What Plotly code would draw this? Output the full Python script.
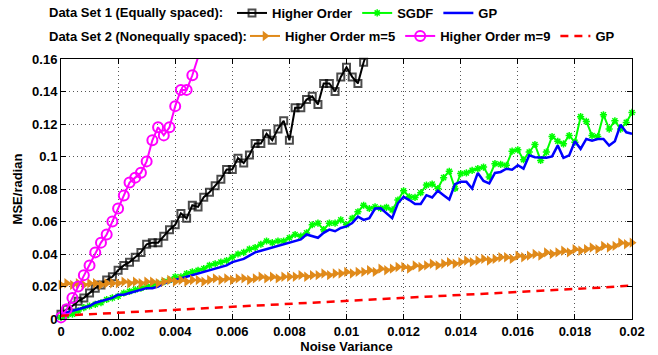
import plotly.graph_objects as go

# ---------------- data ----------------
step = 0.0002
noise_var = [round(i * step, 4) for i in range(101)]

x_ticks = [0, 0.002, 0.004, 0.006, 0.008, 0.01, 0.012, 0.014, 0.016, 0.018, 0.02]
x_tick_labels = ["0", "0.002", "0.004", "0.006", "0.008", "0.01", "0.012", "0.014", "0.016", "0.018", "0.02"]
y_ticks = [0, 0.02, 0.04, 0.06, 0.08, 0.1, 0.12, 0.14, 0.16]
y_tick_labels = ["0", "0.02", "0.04", "0.06", "0.08", "0.1", "0.12", "0.14", "0.16"]

# Data set 1 (equally spaced)
ho_set1 = [0.003, 0.006, 0.008, 0.011, 0.013, 0.016, 0.019, 0.021, 0.024, 0.026,
           0.030, 0.033, 0.035, 0.038, 0.041, 0.046, 0.047, 0.047, 0.051, 0.055,
           0.058, 0.065, 0.062, 0.070, 0.069, 0.075, 0.078, 0.082, 0.086, 0.092,
           0.092, 0.099, 0.096, 0.101, 0.108, 0.108, 0.114, 0.110, 0.117, 0.122,
           0.110, 0.130, 0.130, 0.135, 0.137, 0.132, 0.145, 0.145, 0.140, 0.149,
           0.155, 0.149, 0.145, 0.158, 0.168]

sgdf_set1 = [0.001, 0.002, 0.003, 0.005, 0.007, 0.008, 0.009, 0.010, 0.012, 0.013,
             0.014, 0.016, 0.017, 0.018, 0.019, 0.020, 0.021, 0.022, 0.023, 0.024,
             0.026, 0.026, 0.028, 0.029, 0.030, 0.031, 0.033, 0.034, 0.035, 0.036,
             0.038, 0.040, 0.041, 0.043, 0.044, 0.046, 0.048, 0.047, 0.048, 0.048,
             0.050, 0.052, 0.051, 0.053, 0.058, 0.059, 0.055, 0.059, 0.059, 0.061,
             0.058, 0.062, 0.066, 0.070, 0.068, 0.069,
             0.0681, 0.0687, 0.0671, 0.0732, 0.0789, 0.0752, 0.0748, 0.0777, 0.0824, 0.0830,
             0.0803, 0.0870, 0.0909, 0.0803, 0.0895, 0.0899, 0.0915, 0.0925, 0.0935, 0.0874,
             0.0956, 0.0952, 0.0946, 0.1033, 0.1041, 0.0980, 0.1027, 0.1074, 0.0976, 0.1027,
             0.1123, 0.1094, 0.1078, 0.1129, 0.1088, 0.1245, 0.1216, 0.1129, 0.1123, 0.1257,
             0.1169, 0.1220, 0.1169, 0.1210, 0.1271]

gp_set1 = [0.003, 0.004, 0.005, 0.006, 0.007, 0.008, 0.010, 0.011, 0.012, 0.013,
           0.015, 0.015, 0.016, 0.017, 0.018, 0.019, 0.019, 0.020, 0.022, 0.023,
           0.024, 0.025, 0.026, 0.027, 0.028, 0.029, 0.030, 0.031, 0.032, 0.033,
           0.035, 0.036, 0.037, 0.039, 0.041, 0.042, 0.043, 0.044, 0.045, 0.046,
           0.047, 0.048, 0.049, 0.052, 0.051, 0.050, 0.053, 0.055, 0.054, 0.056,
           0.057, 0.059, 0.063, 0.061, 0.062, 0.068,
           0.0681, 0.0650, 0.0620, 0.0712, 0.0752, 0.0732, 0.0708, 0.0708, 0.0762, 0.0748,
           0.0789, 0.0762, 0.0736, 0.0830, 0.0844, 0.0844, 0.0803, 0.0899, 0.0850, 0.0834,
           0.0899, 0.0905, 0.0925, 0.0919, 0.0946, 0.0925, 0.1007, 0.0996, 0.0996, 0.0992,
           0.1001, 0.1068, 0.0992, 0.1007, 0.1094, 0.1047, 0.1108, 0.1098, 0.1108, 0.1108,
           0.1068, 0.1094, 0.1196, 0.1149, 0.1139]

# Data set 2 (nonequally spaced)
ho_m5_set2 = [0.021, 0.022, 0.021, 0.022, 0.021, 0.022, 0.022, 0.021, 0.022, 0.022,
              0.022, 0.023, 0.022, 0.023, 0.022, 0.023, 0.023, 0.022, 0.023, 0.024,
              0.023, 0.024, 0.023, 0.024, 0.024, 0.023, 0.024, 0.025, 0.024, 0.025,
              0.024, 0.025, 0.025, 0.024, 0.025, 0.026, 0.025, 0.026, 0.025, 0.026,
              0.026, 0.026, 0.027, 0.026, 0.027, 0.027, 0.028, 0.027, 0.028, 0.028,
              0.029, 0.028, 0.029, 0.029, 0.030, 0.029, 0.031, 0.030, 0.031, 0.032,
              0.032, 0.031, 0.033, 0.032, 0.033, 0.034, 0.033, 0.034, 0.035, 0.034,
              0.035, 0.036, 0.035, 0.036, 0.037, 0.036, 0.037, 0.038, 0.038, 0.037,
              0.039, 0.038, 0.039, 0.040, 0.039, 0.041, 0.040, 0.041, 0.042, 0.041,
              0.043, 0.042, 0.043, 0.044, 0.043, 0.045, 0.044, 0.045, 0.047, 0.046,
              0.047]

ho_m9_set2 = [0.001, 0.006, 0.013, 0.020, 0.027, 0.033, 0.041, 0.047, 0.052, 0.060,
              0.068, 0.076, 0.084, 0.087, 0.090, 0.097, 0.110, 0.118, 0.113, 0.118,
              0.131, 0.141, 0.141, 0.150, 0.161]

gp_x_set2 = [0, 0.001, 0.002, 0.003, 0.004, 0.005, 0.006, 0.007, 0.008, 0.009, 0.01,
             0.011, 0.012, 0.013, 0.014, 0.015, 0.016, 0.017, 0.018, 0.019, 0.02]
gp_set2 = [0.0020, 0.0029, 0.0038, 0.0047, 0.0056, 0.0065, 0.0074, 0.0083, 0.0092, 0.0101,
           0.0110, 0.0120, 0.0129, 0.0138, 0.0147, 0.0156, 0.0166, 0.0175, 0.0184, 0.0194,
           0.0206]

# ---------------- figure ----------------
FONT = "Liberation Sans, Arial, Helvetica, sans-serif"
fig = go.Figure()

ho_sizes = [7] * (len(ho_set1) - 1) + [0]
fig.add_trace(go.Scatter(
    x=noise_var[:len(ho_set1)], y=ho_set1, mode="lines+markers", name="Higher Order",
    line=dict(color="black", width=2),
    marker=dict(symbol="square-open", size=ho_sizes, color="black", line=dict(width=2, color="black")),
    cliponaxis=False, legend="legend"))
fig.add_trace(go.Scatter(
    x=noise_var, y=sgdf_set1, mode="lines+markers", name="SGDF",
    line=dict(color="#00FF00", width=2),
    marker=dict(symbol="asterisk-open", size=6, color="#00FF00", line=dict(width=1.5, color="#00FF00")),
    cliponaxis=False, legend="legend"))
fig.add_trace(go.Scatter(
    x=noise_var, y=gp_set1, mode="lines", name="GP",
    line=dict(color="#0000FF", width=2.5),
    cliponaxis=False, legend="legend"))
fig.add_trace(go.Scatter(
    x=noise_var, y=ho_m5_set2, mode="lines+markers", name="Higher Order m=5",
    line=dict(color="#E08A1A", width=2),
    marker=dict(symbol="triangle-right", size=9, color="#E08A1A"),
    cliponaxis=False, legend="legend2"))
fig.add_trace(go.Scatter(
    x=noise_var[:len(ho_m9_set2)], y=ho_m9_set2, mode="lines+markers", name="Higher Order m=9",
    line=dict(color="#FF00FF", width=2),
    marker=dict(symbol="circle-open", size=10, color="#FF00FF", line=dict(width=2, color="#FF00FF")),
    cliponaxis=False, legend="legend2"))
fig.add_trace(go.Scatter(
    x=gp_x_set2, y=gp_set2, mode="lines", name="GP",
    line=dict(color="#FF0000", width=2.5, dash="8px,6px"),
    cliponaxis=False, legend="legend2"))

L, R, T, B = 61, 26, 59, 36
W, H = 658, 355
ph = H - T - B
pw = W - L - R

axis_common = dict(
    showline=True, linecolor="black", linewidth=1, mirror="ticks",
    ticks="inside", ticklen=5, tickcolor="black", tickwidth=1,
    showgrid=True, gridcolor="#555555", gridwidth=1, griddash="1px,3px",
    zeroline=False, automargin=False,
    tickfont=dict(family=FONT, size=13, color="black", weight="bold"),
)

fig.update_layout(
    width=W, height=H,
    margin=dict(l=L, r=R, t=T, b=B, pad=0, autoexpand=False),
    paper_bgcolor="white", plot_bgcolor="white",
    font=dict(family=FONT, size=13, color="black", weight="bold"),
    xaxis=dict(range=[0, 0.02], tickvals=x_ticks, ticktext=x_tick_labels,
               title=dict(text="Noise Variance", standoff=2,
                          font=dict(family=FONT, size=13, color="black", weight="bold")),
               **axis_common),
    yaxis=dict(range=[0, 0.16], tickvals=y_ticks, ticktext=y_tick_labels,
               title=dict(text="MSE/radian", standoff=6,
                          font=dict(family=FONT, size=13, color="black", weight="bold")),
               **axis_common),
    legend=dict(orientation="h", xref="container", yref="container",
                x=232 / W, y=1 - 13 / H, xanchor="left", yanchor="middle",
                bgcolor="rgba(0,0,0,0)", borderwidth=0, itemwidth=30,
                font=dict(family=FONT, size=13, color="black", weight="bold")),
    legend2=dict(orientation="h", xref="container", yref="container",
                 x=245 / W, y=1 - 36 / H, xanchor="left", yanchor="middle",
                 bgcolor="rgba(0,0,0,0)", borderwidth=0, itemwidth=30,
                 font=dict(family=FONT, size=13, color="black", weight="bold")),
    annotations=[
        dict(text="Data Set 1 (Equally spaced):", xref="paper", yref="paper",
             x=(47 - L) / pw, y=(H - B - 13) / ph, xanchor="left", yanchor="middle",
             showarrow=False, font=dict(family=FONT, size=13, color="black", weight="bold")),
        dict(text="Data Set 2 (Nonequally spaced):", xref="paper", yref="paper",
             x=(47 - L) / pw, y=(H - B - 36) / ph, xanchor="left", yanchor="middle",
             showarrow=False, font=dict(family=FONT, size=13, color="black", weight="bold")),
    ],
)

fig.write_html("out.html", config={"displayModeBar": False},
               post_script="document.body.style.margin='0';document.body.style.overflow='hidden';")
